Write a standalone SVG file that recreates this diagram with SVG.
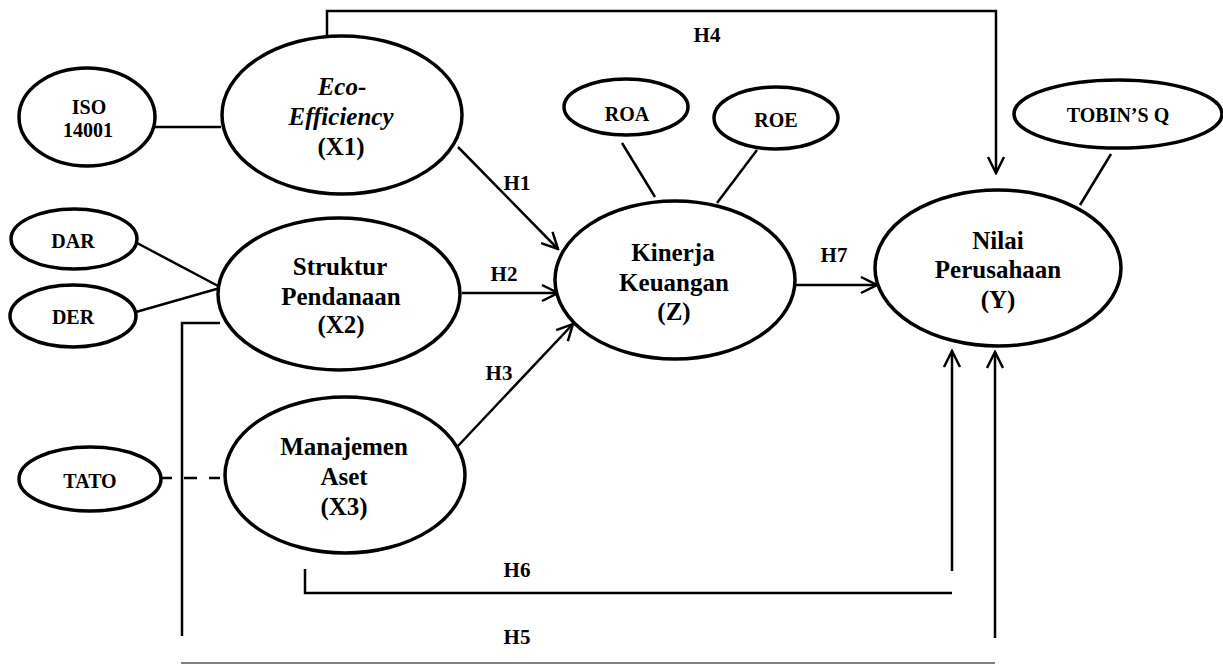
<svg xmlns="http://www.w3.org/2000/svg" width="1223" height="665" viewBox="0 0 1223 665">
<style>
.node ellipse{fill:#fff;stroke:#000;stroke-width:3.5}
text{font-family:'Liberation Serif','Times New Roman',serif;font-weight:bold;text-anchor:middle;fill:#000}
.big{font-size:25px}
.small{font-size:20px}
.it{font-style:italic}
.conn{fill:none;stroke:#000;stroke-width:2.5}
.lbl{font-size:21px}
</style>
<defs>
<marker id="arr" viewBox="0 0 20 20" markerUnits="userSpaceOnUse" markerWidth="20" markerHeight="20" refX="18" refY="10" orient="auto">
<path d="M2,2 L18,10 L2,18" fill="none" stroke="#000" stroke-width="2.5"/>
</marker>
</defs>
<rect width="1223" height="665" fill="#fff"/>
<g id="connectors">
<path class="conn" d="M155,127 H221"/>
<path class="conn" d="M137,243 L220,287"/>
<path class="conn" d="M136,312 L220,288"/>
<path class="conn" d="M161,478 H172 M184,478 H197 M209,478 H220"/>
<path class="conn" d="M622,143 L655,197"/>
<path class="conn" d="M757,150 L717,203"/>
<path class="conn" d="M1111,154 L1080,205"/>
<path class="conn" d="M458,147 L558,249" marker-end="url(#arr)"/>
<path class="conn" d="M462,293 H558" marker-end="url(#arr)"/>
<path class="conn" d="M457,447 L573,324" marker-end="url(#arr)"/>
<path class="conn" d="M795,285 H877" marker-end="url(#arr)"/>
<path class="conn" d="M327,36 V11 H996 V173" marker-end="url(#arr)"/>
<path class="conn" d="M305,569 V593 H952"/>
<path class="conn" d="M952,571 V351" marker-end="url(#arr)"/>
<path class="conn" d="M220,323 H182 V636"/>
<path d="M181,663 H995" fill="none" stroke="#555" stroke-width="1.5"/>
<path class="conn" d="M995,638 V352" marker-end="url(#arr)"/>
<text class="lbl" x="707" y="42">H4</text>
<text class="lbl" x="517" y="190">H1</text>
<text class="lbl" x="504" y="281">H2</text>
<text class="lbl" x="499" y="380">H3</text>
<text class="lbl" x="834" y="262">H7</text>
<text class="lbl" x="517" y="577">H6</text>
<text class="lbl" x="517" y="644">H5</text>
</g>
<g id="iso" class="node">
<ellipse cx="87" cy="117" rx="68" ry="49"/>
<text class="small" x="89" y="114">ISO</text>
<text class="small" x="88" y="137">14001</text>
</g>
<g id="eco" class="node">
<ellipse cx="342" cy="115" rx="120" ry="79"/>
<text class="big it" x="342" y="95">Eco-</text>
<text class="big it" x="341" y="125">Efficiency</text>
<text class="big" x="341" y="155">(X1)</text>
</g>
<g id="dar" class="node">
<ellipse cx="74" cy="239" rx="63" ry="30"/>
<text class="small" x="73" y="248">DAR</text>
</g>
<g id="der" class="node">
<ellipse cx="73" cy="316" rx="63" ry="31"/>
<text class="small" x="73" y="324">DER</text>
</g>
<g id="struktur" class="node">
<ellipse cx="339" cy="294" rx="121" ry="76"/>
<text class="big" x="340" y="275">Struktur</text>
<text class="big" x="341" y="305">Pendanaan</text>
<text class="big" x="341" y="333">(X2)</text>
</g>
<g id="tato" class="node">
<ellipse cx="90" cy="479" rx="71" ry="32"/>
<text class="small" x="90" y="488">TATO</text>
</g>
<g id="manajemen" class="node">
<ellipse cx="345" cy="475" rx="120" ry="78"/>
<text class="big" x="344" y="455">Manajemen</text>
<text class="big" x="344" y="485">Aset</text>
<text class="big" x="344" y="515">(X3)</text>
</g>
<g id="roa" class="node">
<ellipse cx="626" cy="107" rx="62" ry="28"/>
<text class="small" x="627" y="121">ROA</text>
</g>
<g id="roe" class="node">
<ellipse cx="776" cy="118" rx="62" ry="31"/>
<text class="small" x="776" y="127">ROE</text>
</g>
<g id="kinerja" class="node">
<ellipse cx="675" cy="280" rx="120" ry="79"/>
<text class="big" x="673" y="261">Kinerja</text>
<text class="big" x="674" y="291">Keuangan</text>
<text class="big" x="674" y="320">(Z)</text>
</g>
<g id="tobin" class="node">
<ellipse cx="1118" cy="114" rx="104" ry="34"/>
<text class="small" x="1118" y="122">TOBIN’S Q</text>
</g>
<g id="nilai" class="node">
<ellipse cx="998" cy="268" rx="123" ry="78"/>
<text class="big" x="998" y="249">Nilai</text>
<text class="big" x="998" y="278">Perusahaan</text>
<text class="big" x="998" y="308">(Y)</text>
</g>
</svg>
